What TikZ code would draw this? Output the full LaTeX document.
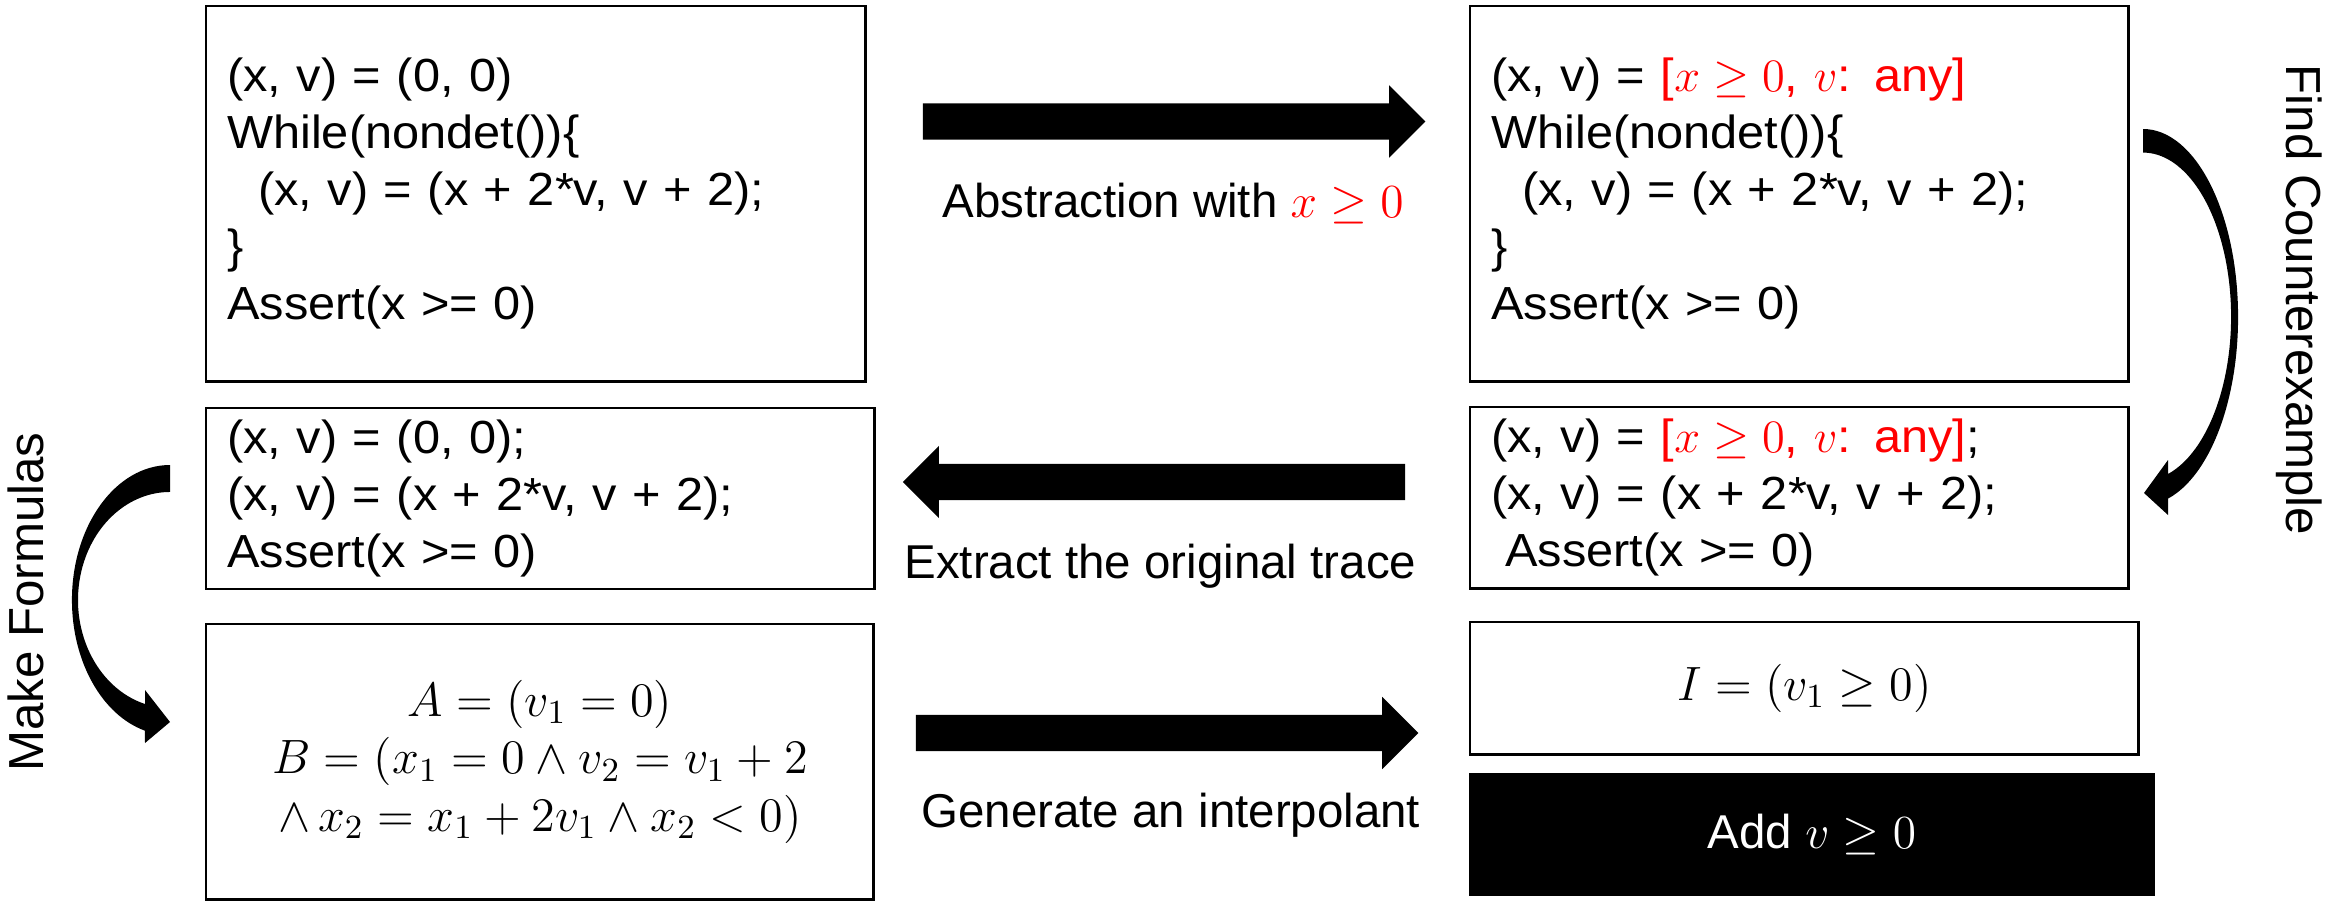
\RequirePackage{fix-cm}
\documentclass[tikz,border=0pt]{standalone}
\usepackage{amsmath,amssymb}
\usepackage{fontspec}
\setmainfont{Liberation Sans}
\newfontfamily\codefont[FakeStretch=1.05]{Liberation Sans}
\usepackage{xcolor}
\usetikzlibrary{shapes.arrows}
\definecolor{absRed}{HTML}{FF0000}

\begin{document}
\begin{tikzpicture}[x=0.01cm, y=0.01cm, font=\fontsize{13.5}{16.2}\selectfont,
  codebox/.style={draw,line width=0.7pt,anchor=north west,inner xsep=0.21cm,align=left,
    font=\codefont\fontsize{13.2}{16.2}\selectfont},
  mathbox/.style={draw,line width=0.7pt,anchor=north west,align=center,
    font=\fontsize{13.7}{16.3}\selectfont},
  blockarr/.style={single arrow,fill=black,inner xsep=0pt,inner ysep=0.175cm,
    minimum height=5.02cm,single arrow head extend=0.18cm},
  steplbl/.style={anchor=base west},
  sidelbl/.style={anchor=base,font=\fontsize{14}{16}\selectfont}]
  \useasboundingbox (0,0) rectangle (2331,-900);
% --- top row: program and its abstraction ---
  \node[codebox,minimum width=6.59cm,minimum height=3.75cm,text width=6.17cm] (prog) at (205,-5)
    {(x, v) = (0, 0)\\ While(nondet())\{\\ \hspace*{0.31cm}(x, v) = (x + 2*v, v + 2);\\ \}\\ Assert(x >= 0)};
  \node[codebox,minimum width=6.58cm,minimum height=3.75cm,text width=6.16cm] (absProg) at (1469,-5)
    {(x, v) = \textcolor{absRed}{[$x \geq 0$, $v$: any]}\\ While(nondet())\{\\ \hspace*{0.31cm}(x, v) = (x + 2*v, v + 2);\\ \}\\ Assert(x >= 0)};
% --- middle row: traces ---
  \node[codebox,minimum width=6.68cm,minimum height=1.80cm,text width=6.26cm] (origTrace) at (205,-407)
    {(x, v) = (0, 0);\\ (x, v) = (x + 2*v, v + 2);\\ Assert(x >= 0)};
  \node[codebox,minimum width=6.58cm,minimum height=1.81cm,text width=6.16cm] (cexTrace) at (1469,-406)
    {(x, v) = \textcolor{absRed}{[$x \geq 0$, $v$: any]};\\ (x, v) = (x + 2*v, v + 2);\\ \hspace*{0.14cm}Assert(x >= 0)};
% --- bottom row: formulas and interpolant ---
  \node[mathbox,minimum width=6.67cm,minimum height=2.75cm] (fml) at (205,-623)
    {$A=(v_1=0)$\\ $B=(x_1=0\land v_2=v_1+2$\\ $\land\,x_2=x_1+2v_1\land x_2<0)$};
  \node[mathbox,minimum width=6.68cm,minimum height=1.32cm] (itp) at (1469,-621) {$I=(v_1\geq 0)$};
  \node[anchor=north west,fill=black,text=white,minimum width=6.86cm,minimum height=1.23cm] (addPred) at (1468,-772)
    {Add $v\geq 0$};
% block arrows
  \node[blockarr] (absArr) at (1165,-121.5) {};
  \node[blockarr,shape border rotate=180] (traceArr) at (1163,-482) {};
  \node[blockarr] (itpArr) at (1158,-733) {};
  \node[steplbl] (absLbl) at (930,-217) {Abstraction with \textcolor{absRed}{$x\geq 0$}};
  \node[steplbl] (traceLbl) at (892,-578) {Extract the original trace};
  \node[steplbl] (itpLbl) at (909,-827) {Generate an interpolant};
% curved arrow on the right
  \fill (2143,-129) arc[start angle=90,end angle=-74.7,x radius=0.95cm,y radius=1.88cm]
    -- (2168,-515) -- (2144,-493) -- (2168,-460) -- (2168,-474)
    arc[start angle=-73.5,end angle=90,x radius=0.88cm,y radius=1.64cm] -- cycle;
  \node[sidelbl,rotate=-90] (cexLbl) at (2286,-300) {Find Counterexample};
% curved arrow on the left
  \fill (170,-465) arc[start angle=90,end angle=255.2,x radius=0.98cm,y radius=1.35cm]
    -- (145,-743) -- (170,-722) -- (145,-690) -- (145,-704)
    arc[start angle=254.2,end angle=90,x radius=0.92cm,y radius=1.08cm] -- cycle;
  \node[sidelbl,rotate=90] (fmlLbl) at (43,-602) {Make Formulas};
\end{tikzpicture}
\end{document}
